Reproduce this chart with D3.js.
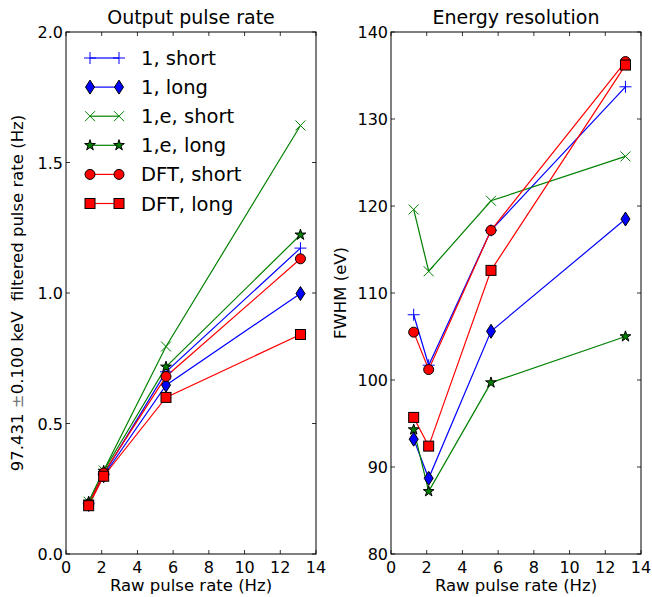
<!DOCTYPE html>
<html><head><meta charset="utf-8">
<script src="https://cdn.jsdelivr.net/npm/d3@7"></script>
<style>body{margin:0;background:#fff}svg{display:block}text{font-family:"DejaVu Sans",sans-serif}</style>
</head><body>
<svg id="c" width="652" height="597"></svg>
<script>
const rawRate = [1.27, 2.11, 5.6, 13.13];
const seriesNames = ["1, short","1, long","1,e, short","1,e, long","DFT, short","DFT, long"];
const rateShort1 = [0.195, 0.305, 0.698, 1.172];
const rateLong1 = [0.19, 0.30, 0.647, 0.998];
const rateShortE = [0.20, 0.32, 0.795, 1.642];
const rateLongE = [0.20, 0.318, 0.717, 1.223];
const rateShortDFT = [0.19, 0.31, 0.680, 1.131];
const rateLongDFT = [0.185, 0.298, 0.600, 0.841];
const fwhmShort1 = [107.5, 101.7, 117.2, 133.7];
const fwhmLong1 = [93.2, 88.7, 105.6, 118.5];
const fwhmShortE = [119.6, 112.5, 120.6, 125.7];
const fwhmLongE = [94.3, 87.2, 99.7, 105.0];
const fwhmShortDFT = [105.5, 101.2, 117.2, 136.6];
const fwhmLongDFT = [95.7, 92.4, 112.6, 136.2];
const xTicks = [0,2,4,6,8,10,12,14];
const rateTicks = [0.0,0.5,1.0,1.5,2.0];
const fwhmTicks = [80,90,100,110,120,130,140];

const styles = [
 {color:"#0000ff", marker:"plus"},
 {color:"#0000ff", marker:"diamond"},
 {color:"#008000", marker:"x"},
 {color:"#008000", marker:"star"},
 {color:"#ff0000", marker:"circle"},
 {color:"#ff0000", marker:"square"}
];
const rateSeries = [rateShort1,rateLong1,rateShortE,rateLongE,rateShortDFT,rateLongDFT];
const fwhmSeries = [fwhmShort1,fwhmLong1,fwhmShortE,fwhmLongE,fwhmShortDFT,fwhmLongDFT];

const svg = d3.select("#c");

function marker(g, type, color, x, y){
  if(type==="plus"){
    g.append("path").attr("d",`M${x-6},${y}H${x+6}M${x},${y-6}V${y+6}`).attr("stroke",color).attr("stroke-width",1).attr("fill","none");
  } else if(type==="x"){
    g.append("path").attr("d",`M${x-5},${y-5}L${x+5},${y+5}M${x-5},${y+5}L${x+5},${y-5}`).attr("stroke",color).attr("stroke-width",1).attr("fill","none");
  } else if(type==="diamond"){
    g.append("path").attr("d",`M${x},${y-7}L${x+4.5},${y}L${x},${y+7}L${x-4.5},${y}Z`).attr("fill",color).attr("stroke","#000").attr("stroke-width",1);
  } else if(type==="circle"){
    g.append("circle").attr("cx",x).attr("cy",y).attr("r",5).attr("fill",color).attr("stroke","#000").attr("stroke-width",1);
  } else if(type==="square"){
    g.append("rect").attr("x",x-5).attr("y",y-5).attr("width",10).attr("height",10).attr("fill",color).attr("stroke","#000").attr("stroke-width",1);
  } else if(type==="star"){
    g.append("path").attr("d",d3.symbol().type(d3.symbolStar).size(36)()).attr("transform",`translate(${x},${y})`).attr("fill",color).attr("stroke","#000").attr("stroke-width",1);
  }
}

function panel(opt){
  const x = d3.scaleLinear().domain([0,14]).range([opt.left, opt.right]);
  const y = d3.scaleLinear().domain(opt.ydom).range([554, 32]);
  const g = svg.append("g");
  const tl = 4;
  const ax = g.append("g").attr("stroke","#000").attr("stroke-width",0.8);
  xTicks.forEach(t=>{
    ax.append("line").attr("x1",x(t)).attr("x2",x(t)).attr("y1",554).attr("y2",554-tl);
    ax.append("line").attr("x1",x(t)).attr("x2",x(t)).attr("y1",32).attr("y2",32+tl);
    g.append("text").attr("x",x(t)).attr("y",573).attr("text-anchor","middle").attr("font-size",16).text(t);
  });
  opt.yticks.forEach(t=>{
    ax.append("line").attr("x1",opt.left).attr("x2",opt.left+tl).attr("y1",y(t)).attr("y2",y(t));
    ax.append("line").attr("x1",opt.right).attr("x2",opt.right-tl).attr("y1",y(t)).attr("y2",y(t));
    g.append("text").attr("x",opt.left-3).attr("y",y(t)+6).attr("text-anchor","end").attr("font-size",16).text(opt.fmt(t));
  });
  const line = d3.line().x((d,i)=>x(rawRate[i])).y(d=>y(d));
  opt.series.forEach((s,k)=>{
    g.append("path").datum(s).attr("d",line).attr("fill","none").attr("stroke",styles[k].color).attr("stroke-width",1.2);
  });
  opt.series.forEach((s,k)=>{
    s.forEach((v,i)=>marker(g, styles[k].marker, styles[k].color, x(rawRate[i]), y(v)));
  });
  g.append("rect").attr("x",opt.left).attr("y",32).attr("width",opt.right-opt.left).attr("height",522).attr("fill","none").attr("stroke","#000").attr("stroke-width",1);
  g.append("text").attr("x",(opt.left+opt.right)/2).attr("y",24).attr("text-anchor","middle").attr("font-size",19).text(opt.title);
  g.append("text").attr("x",(opt.left+opt.right)/2).attr("y",591).attr("text-anchor","middle").attr("font-size",16.5).text("Raw pulse rate (Hz)");
  return {x,y,g};
}

panel({left:66,right:316,ydom:[0,2],yticks:rateTicks,fmt:d3.format(".1f"),series:rateSeries,title:"Output pulse rate"});
panel({left:391,right:641,ydom:[80,140],yticks:fwhmTicks,fmt:d=>d,series:fwhmSeries,title:"Energy resolution"});

const yl = svg.append("text").attr("transform","translate(23,293) rotate(-90)").attr("text-anchor","middle").attr("font-size",16.5);
yl.append("tspan").text("97.431 ");
yl.append("tspan").attr("fill","#777").text("±");
yl.append("tspan").text("0.100 keV\u00a0 filtered pulse rate (Hz)");
svg.append("text").attr("transform","translate(346,293) rotate(-90)").attr("text-anchor","middle").attr("font-size",16.5).text("FWHM (eV)");

const lg = svg.append("g");
seriesNames.forEach((n,k)=>{
  const yy = 58 + k*29.1;
  lg.append("line").attr("x1",90).attr("x2",119).attr("y1",yy).attr("y2",yy).attr("stroke",styles[k].color).attr("stroke-width",1.2);
  marker(lg, styles[k].marker, styles[k].color, 90, yy);
  marker(lg, styles[k].marker, styles[k].color, 119, yy);
  lg.append("text").attr("x",141).attr("y",yy+7).attr("font-size",19.5).text(n);
});
</script>
</body></html>
